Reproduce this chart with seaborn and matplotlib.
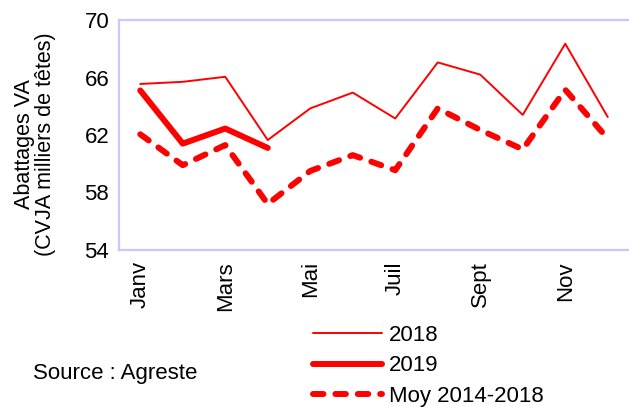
import matplotlib
matplotlib.use("Agg")
import matplotlib.pyplot as plt
import seaborn as sns
import numpy as np
import pandas as pd

months = ["Janv", "Févr", "Mars", "Avr", "Mai", "Juin", "Juil", "Août", "Sept", "Oct", "Nov", "Déc"]
tick_labels = ["Janv", "", "Mars", "", "Mai", "", "Juil", "", "Sept", "", "Nov", ""]
v2018 = [65.55, 65.7, 66.05, 61.65, 63.85, 64.95, 63.15, 67.05, 66.2, 63.4, 68.35, 63.25]
v2019 = [65.1, 61.4, 62.45, 61.1]
vmoy = [62.05, 59.9, 61.3, 57.2, 59.5, 60.6, 59.55, 63.85, 62.35, 61.0, 65.15, 61.75]

sns.set_theme(style="white")
plt.rcParams['font.family'] = ['Liberation Sans', 'DejaVu Sans']
plt.rcParams['text.color'] = 'black'
plt.rcParams['xtick.color'] = 'black'
plt.rcParams['ytick.color'] = 'black'

W, H = 629, 407
fig = plt.figure(figsize=(W / 100, H / 100), dpi=100)
ax = fig.add_axes([119 / W, 1 - 250 / H, 510 / W, 230 / H])

red = "#ff0000"
axcol = "#c8c8ff"
fs = 16

df18 = pd.DataFrame({"x": np.arange(len(v2018)), "y": v2018})
df19 = pd.DataFrame({"x": np.arange(len(v2019)), "y": v2019})
dfm = pd.DataFrame({"x": np.arange(len(vmoy)), "y": vmoy})

sns.lineplot(data=df18, x="x", y="y", ax=ax, color=red, linewidth=1.4, label="2018")
sns.lineplot(data=df19, x="x", y="y", ax=ax, color=red, linewidth=4.3, label="2019",
             solid_capstyle="round", solid_joinstyle="round")
sns.lineplot(data=dfm, x="x", y="y", ax=ax, color=red, linewidth=4.3, label="Moy 2014-2018")
ax.lines[-1].set_dashes((1.75, 2.0))
ax.lines[-1].set_dash_capstyle("round")
ax.lines[-1].set_dash_joinstyle("round")

ax.set_xlim(-0.5, 11.5)
ax.set_ylim(54, 70)
ax.set_yticks([54, 58, 62, 66, 70])
ax.set_xticks(np.arange(-0.5, 12.0, 1.0))
ax.set_xticklabels([])
ax.set_xticks(np.arange(12), minor=True)
ax.set_xticklabels(tick_labels, minor=True, rotation=90, fontsize=fs, va="top")
ax.tick_params(axis="x", which="minor", length=0, pad=8, labelcolor="black")
ax.tick_params(axis="x", which="major", length=5, width=1.3, color=axcol, direction="out")
ax.tick_params(axis="y", which="major", length=5, width=1.3, color=axcol, direction="out",
               labelsize=fs, pad=2, labelcolor="black")
ax.set_xlabel("")
ax.set_ylabel("")
for s in ax.spines.values():
    s.set_color(axcol)
    s.set_linewidth(1.6)
    s.set_visible(True)
ax.spines["right"].set_visible(False)

fig.text(35 / W, 1 - 144 / H, "Abattages VA\n(CVJA milliers de têtes)", rotation=90,
         ha="center", va="center", multialignment="center", fontsize=15.5, linespacing=1.0)
fig.text(33 / W, 1 - 373 / H, "Source : Agreste", ha="left", va="center", fontsize=fs)

ax.get_legend().remove()
handles, labels = ax.get_legend_handles_labels()
leg = fig.legend(handles, labels, loc="upper left", bbox_to_anchor=(313 / W, 1 - 325 / H),
                 frameon=False, fontsize=fs, handlelength=3.1, handletextpad=0.32,
                 labelspacing=0.42, borderpad=0, borderaxespad=0)

fig.savefig("out.png", dpi=100)
